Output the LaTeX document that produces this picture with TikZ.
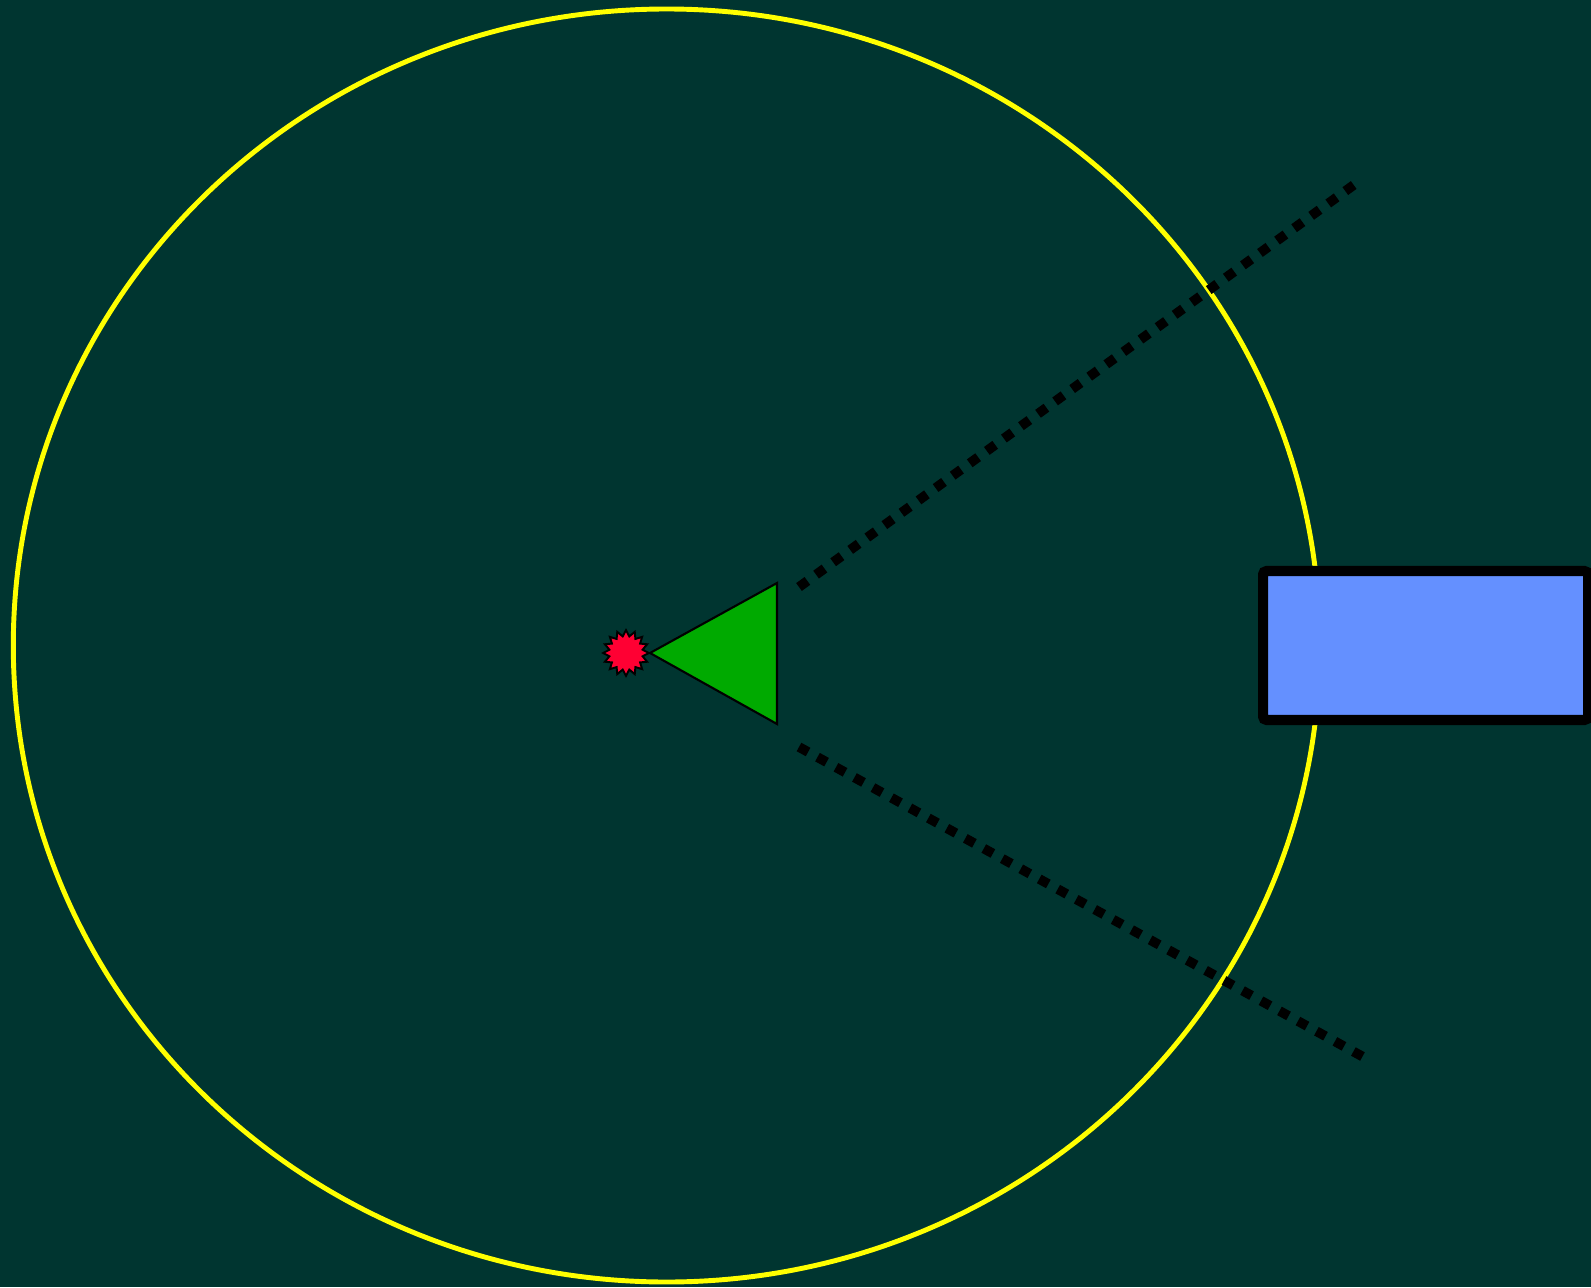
\documentclass[tikz,border=0pt]{standalone}
\usetikzlibrary{shapes.geometric}
\definecolor{bgteal}{RGB}{0,53,48}
\definecolor{ringyellow}{RGB}{255,255,0}
\definecolor{trigreen}{RGB}{0,170,0}
\definecolor{burstred}{RGB}{255,0,51}
\definecolor{boxblue}{RGB}{100,144,255}
\tikzset{
  ring/.style={draw=ringyellow, line width=2.8pt},
  beam/.style={draw=black, line width=5.5pt, dash pattern=on 5.9pt off 6.1pt},
  burst/.style={star, star points=16, star point ratio=1.35, minimum size=26pt, inner sep=0pt, fill=burstred, draw=black, line width=1.1pt},
  cone/.style={fill=trigreen, draw=black, line width=1.2pt, line join=miter},
  panel/.style={fill=boxblue, draw=black, line width=5.7pt, rounded corners=2pt}
}
\begin{document}
\begin{tikzpicture}[x=0.02cm, y=-0.02cm]
  \fill[bgteal] (0,0) rectangle (1591,1287);
  \useasboundingbox (0,0) rectangle (1591,1287);
  % big ring
  \draw[ring] (666.6,645.5) ellipse [x radius=653.3, y radius=636.5];
  % beams
  \coordinate (u1) at (799,587);
  \coordinate (u2) at (1362,179);
  \coordinate (l1) at (799,747);
  \coordinate (l2) at (1367,1059);
  \draw[beam] (u1) -- (u2);
  \draw[beam] (l1) -- (l2);
  % triangle
  \coordinate (tA) at (650,653);
  \coordinate (tB) at (777,583);
  \coordinate (tC) at (777,724);
  \draw[cone] (tA) -- (tB) -- (tC) -- cycle;
  % starburst
  \node[burst] (sb) at (626,653) {};
  % panel
  \draw[panel] (1263,571) rectangle (1588,720);
\end{tikzpicture}
\end{document}
